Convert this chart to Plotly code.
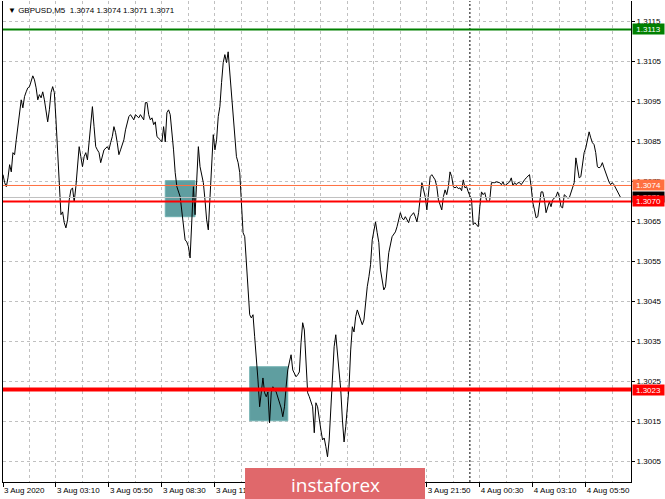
import pandas as pd
import plotly.graph_objects as go

# ---------------- data ----------------
chart_title = "▼ GBPUSD,M5  1.3074 1.3074 1.3071 1.3071"
first_bar_time = "2020-08-03 00:30"
bar_minutes = 5

# bar number (offset from the first visible M5 bar) and close price
bar_offsets = [
    0, 1, 2, 3, 4, 5, 6, 7, 8, 9, 10, 11, 12, 13, 14, 15, 16, 18, 19, 20,
    21, 22, 23, 24, 25, 26, 27, 28, 29, 30, 31, 32, 33, 34, 35, 36, 37, 38, 39, 40,
    41, 42, 43, 44, 45, 46, 47, 48, 49, 50, 51, 52, 53, 54, 55, 56, 57, 58, 59, 60,
    61, 63, 64, 65, 66, 67, 68, 69, 70, 71, 73, 74, 76, 77, 79, 80, 82, 83, 85, 86,
    87, 88, 89, 90, 91, 92, 93, 95, 96, 97, 98, 99, 100, 101, 102, 103, 104, 105, 107, 108,
    109, 110, 111, 112, 113, 114, 115, 116, 117, 118, 119, 120, 121, 122, 123, 124, 125, 126, 127, 128,
    129, 130, 131, 132, 133, 134, 135, 136, 137, 138, 139, 140, 141, 142, 143, 144, 145, 146, 147, 148,
    149, 150, 151, 152, 153, 154, 155, 156, 157, 158, 159, 160, 161, 162, 163, 165, 166, 167, 168, 169,
    170, 171, 172, 173, 174, 175, 177, 178, 179, 180, 181, 182, 183, 184, 185, 187, 188, 189, 190, 191,
    192, 193, 194, 195, 196, 197, 198, 199, 200, 201, 202, 203, 204, 205, 206, 207, 208, 209, 210, 211,
    212, 213, 214, 215, 217, 218, 219, 220, 221, 222, 223, 225, 226, 227, 228, 229, 230, 231, 232, 233,
    235, 237, 238, 239, 240, 241, 242, 243, 245, 246, 248, 249, 250, 251, 252, 253, 254, 255, 256, 257,
    258, 259, 261, 262, 263, 265, 266, 267, 268, 269, 270, 271, 272, 273, 274, 275, 276, 277, 278, 279,
    280, 281, 282, 283, 284, 285, 286, 287, 288, 289, 290, 291, 292, 293, 294, 295, 296, 297, 298, 299,
    300, 301, 302, 303, 305, 306, 307, 308, 309, 310, 311, 312, 313, 314, 315, 316, 317, 318, 319, 320,
    321, 322, 323, 324, 325, 326, 327, 328, 329, 330, 331, 332, 333, 334, 335, 336, 337, 338, 339, 340,
    341, 342, 343, 344, 345, 346, 347, 348, 349, 350, 351, 352, 353, 354, 355, 356, 357, 358, 359, 360,
    361, 362, 363, 364, 365, 366, 367, 368, 369, 370, 371, 372, 373,
]
close_prices = [
    1.30767, 1.30747, 1.30737, 1.30759, 1.30792, 1.30774, 1.30822, 1.30817, 1.30854, 1.30887,
    1.30922, 1.30954, 1.30934, 1.30962, 1.30974, 1.30984, 1.30987, 1.31014, 1.31004, 1.30984,
    1.30954, 1.30967, 1.30959, 1.30974, 1.30954, 1.30922, 1.30899, 1.30929, 1.30972, 1.30987,
    1.30972, 1.30904, 1.30812, 1.30722, 1.30667, 1.30674, 1.30647, 1.30634, 1.30654, 1.30704,
    1.30729, 1.30734, 1.30699, 1.30737, 1.30787, 1.30837, 1.30812, 1.30787, 1.30812, 1.30822,
    1.30804, 1.30847, 1.30897, 1.30937, 1.30887, 1.30837, 1.30829, 1.30822, 1.30797, 1.30812,
    1.30829, 1.30837, 1.30829, 1.30847, 1.30862, 1.30887, 1.30872, 1.30847, 1.30817, 1.30829,
    1.30854, 1.30879, 1.30912, 1.30917, 1.30904, 1.30917, 1.30909, 1.30917, 1.30904, 1.30947,
    1.30947, 1.30917, 1.30904, 1.30909, 1.30892, 1.30899, 1.30862, 1.30854, 1.30849, 1.30887,
    1.30849, 1.30922, 1.30929, 1.30917, 1.30879, 1.30829, 1.30772, 1.30737, 1.30712, 1.30679,
    1.30637, 1.30604, 1.30599, 1.30587, 1.30559, 1.30642, 1.30737, 1.30667, 1.30759, 1.30837,
    1.30787, 1.30762, 1.30747, 1.30704, 1.30654, 1.30629, 1.30704, 1.30787, 1.30867, 1.30829,
    1.30854, 1.30912, 1.30937, 1.30997, 1.31047, 1.31067, 1.31047, 1.31074, 1.31022, 1.30962,
    1.30904, 1.30854, 1.30812, 1.30797, 1.30772, 1.30697, 1.30622, 1.30612, 1.30554, 1.30479,
    1.30417, 1.30409, 1.30417, 1.30362, 1.30312, 1.30254, 1.30187, 1.30222, 1.30259, 1.30222,
    1.30212, 1.30224, 1.30147, 1.30222, 1.30237, 1.30224, 1.30212, 1.30197, 1.30184, 1.30162,
    1.30187, 1.30237, 1.30279, 1.30299, 1.30317, 1.30279, 1.30262, 1.30267, 1.30274, 1.30347,
    1.30397, 1.30379, 1.30279, 1.30222, 1.30212, 1.30187, 1.30122, 1.30197, 1.30187, 1.30154,
    1.30129, 1.30104, 1.30109, 1.30087, 1.30062, 1.30104, 1.30187, 1.30279, 1.30337, 1.30367,
    1.30322, 1.30272, 1.30229, 1.30154, 1.30099, 1.30137, 1.30187, 1.30237, 1.30329, 1.30387,
    1.30374, 1.30412, 1.30429, 1.30417, 1.30392, 1.30404, 1.30447, 1.30487, 1.30512, 1.30542,
    1.30604, 1.30649, 1.30622, 1.30597, 1.30529, 1.30497, 1.30479, 1.30487, 1.30529, 1.30572,
    1.30612, 1.30624, 1.30637, 1.30654, 1.30672, 1.30659, 1.30654, 1.30662, 1.30647, 1.30662,
    1.30672, 1.30662, 1.30649, 1.30672, 1.30712, 1.30747, 1.30729, 1.30712, 1.30679, 1.30729,
    1.30762, 1.30767, 1.30754, 1.30737, 1.30704, 1.30679, 1.30712, 1.30729, 1.30717, 1.30737,
    1.30774, 1.30762, 1.30737, 1.30734, 1.30737, 1.30732, 1.30734, 1.30727, 1.30754, 1.30734,
    1.30737, 1.30724, 1.30712, 1.30704, 1.30642, 1.30647, 1.30642, 1.30637, 1.30687, 1.30724,
    1.30717, 1.30722, 1.30704, 1.30699, 1.30704, 1.30747, 1.30747, 1.30747, 1.30749, 1.30747,
    1.30747, 1.30742, 1.30749, 1.30739, 1.30747, 1.30749, 1.30759, 1.30739, 1.30747, 1.30742,
    1.30747, 1.30747, 1.30742, 1.30749, 1.30754, 1.30759, 1.30762, 1.30767, 1.30737, 1.30697,
    1.30679, 1.30659, 1.30662, 1.30697, 1.30724, 1.30724, 1.30704, 1.30672, 1.30687, 1.30699,
    1.30687, 1.30704, 1.30709, 1.30712, 1.30724, 1.30712, 1.30687, 1.30684, 1.30717, 1.30712,
    1.30709, 1.30709, 1.30722, 1.30737, 1.30747, 1.30809, 1.30787, 1.30759, 1.30762, 1.30797,
    1.30822, 1.30834, 1.30859, 1.30874, 1.30859, 1.30847, 1.30842, 1.30822, 1.30787, 1.30784,
    1.30787, 1.30797, 1.30784, 1.30772, 1.30759, 1.30749, 1.30742, 1.30747, 1.30742, 1.30734,
    1.30729, 1.30722, 1.30710,
]

x_labels = ["3 Aug 2020", "3 Aug 03:10", "3 Aug 05:50", "3 Aug 08:30", "3 Aug 11:10",
            "3 Aug 13:50", "3 Aug 16:30", "3 Aug 19:10", "3 Aug 21:50", "4 Aug 00:30",
            "4 Aug 03:10", "4 Aug 05:50"]
label_step_bars = 32
grid_step_bars = 16
visible_bars = 379.3

y_tick_values = [1.3005, 1.3015, 1.3025, 1.3035, 1.3045, 1.3055, 1.3065,
                 1.3075, 1.3085, 1.3095, 1.3105, 1.3115]
y_min, y_max = 1.29999, 1.31201

level_prices = [1.3113, 1.3074, 1.3070, 1.3023]
level_colors = ["#008000", "#ff7040", "#ff0000", "#ff0000"]
level_widths = [2, 1, 2, 4]
bid_price = 1.3071

zone_start = ["2020-08-03 08:40", "2020-08-03 12:55"]
zone_end = ["2020-08-03 10:10", "2020-08-03 14:50"]
zone_low = [1.30662, 1.30152]
zone_high = [1.30752, 1.30287]

day_separator = "2020-08-04 00:00"

# ---------------- figure ----------------
t0 = pd.Timestamp(first_bar_time)
step = pd.Timedelta(minutes=bar_minutes)
times = [t0 + b * step for b in bar_offsets]

major_ticks = [t0 + i * label_step_bars * step for i in range(len(x_labels))]
minor_ticks = [t0 + i * grid_step_bars * step for i in range(int(visible_bars // grid_step_bars) + 1)]
x_end = t0 + pd.Timedelta(minutes=visible_bars * bar_minutes)

FONT = "Liberation Sans, Arial, sans-serif"
GRID = "#c0c0c0"

fig = go.Figure()

for s, e, lo, hi in zip(zone_start, zone_end, zone_low, zone_high):
    fig.add_shape(type="rect", xref="x", yref="y", x0=s, x1=e, y0=lo, y1=hi,
                  fillcolor="#5f9ea0", line=dict(color="#6fb0b0", width=1), layer="between")

fig.add_trace(go.Scatter(x=times, y=close_prices, mode="lines",
                         line=dict(color="#000000", width=1), hoverinfo="skip", showlegend=False))

fig.add_shape(type="line", xref="x", yref="paper", x0=day_separator, x1=day_separator, y0=0, y1=1,
              line=dict(color="#000000", width=1, dash="2px,2px"), layer="above")
fig.add_shape(type="line", xref="paper", yref="y", x0=0, x1=1, y0=bid_price, y1=bid_price,
              line=dict(color="#c0c0c0", width=1), layer="above")
for p, c, w in zip(level_prices, level_colors, level_widths):
    fig.add_shape(type="line", xref="paper", yref="y", x0=0, x1=1, y0=p, y1=p,
                  line=dict(color=c, width=w), layer="above")

# right-hand price labels
def price_box(price, color):
    fig.add_annotation(xref="paper", yref="y", x=1, y=price, xanchor="left", yanchor="middle",
                       xshift=1, text=f"{price:.4f}", showarrow=False,
                       font=dict(family=FONT, size=8, color="#ffffff"),
                       bgcolor=color, width=31, height=10, borderpad=0, align="center")

price_box(bid_price, "#000000")
for p, c in zip(level_prices, level_colors):
    price_box(p, c)

fig.add_annotation(xref="paper", yref="paper", x=0, y=1, xanchor="left", yanchor="top",
                   xshift=3, yshift=-3, text=chart_title, showarrow=False,
                   font=dict(family=FONT, size=8, color="#000000"))

# logo
fig.add_shape(type="rect", xref="paper", yref="paper", x0=0.3854, x1=0.6720, y0=-0.045, y1=0.029,
              fillcolor="#e0686b", line=dict(width=0), layer="above")
fig.add_annotation(xref="paper", yref="paper", x=0.5287, y=-0.006, xanchor="center", yanchor="middle",
                   text="instaforex", showarrow=False,
                   font=dict(family="Open Sans, sans-serif", size=19, color="#ffffff"))

fig.update_layout(
    width=665, height=499,
    margin=dict(l=3, r=34, t=1, b=17),
    paper_bgcolor="#ffffff", plot_bgcolor="#ffffff",
    showlegend=False,
    font=dict(family=FONT, size=8, color="#000000"),
)
fig.update_xaxes(
    type="date", range=[t0, x_end],
    tickmode="array", tickvals=major_ticks, ticktext=x_labels,
    ticks="outside", ticklen=4, tickcolor="#000000", ticklabelposition="outside right",
    tickfont=dict(family=FONT, size=8, color="#000000"),
    showgrid=True, gridcolor=GRID, griddash="3px,3px", gridwidth=1,
    minor=dict(tickvals=minor_ticks, showgrid=True, gridcolor=GRID, griddash="3px,3px", ticks=""),
    showline=True, linecolor="#000000", linewidth=1, mirror=False, zeroline=False,
)
fig.update_yaxes(
    side="right", range=[y_min, y_max],
    tickmode="array", tickvals=y_tick_values, ticktext=[f"{v:.4f}" for v in y_tick_values],
    ticks="outside", ticklen=3, tickcolor="#000000",
    tickfont=dict(family=FONT, size=8, color="#000000"),
    showgrid=True, gridcolor=GRID, griddash="3px,3px", gridwidth=1,
    showline=True, linecolor="#000000", linewidth=1, mirror=True, zeroline=False,
)

fig.write_html("out.html", config={"displayModeBar": False},
               post_script="document.body.style.margin='0';")
